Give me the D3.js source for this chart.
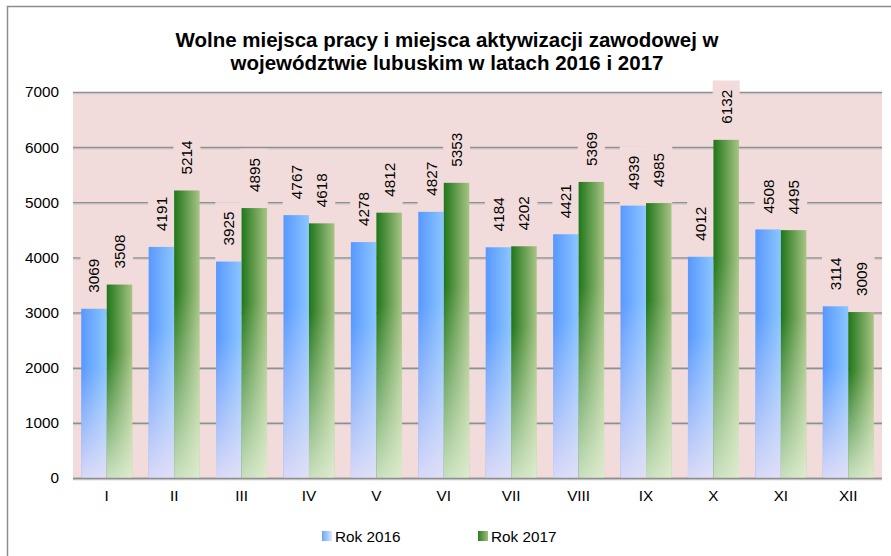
<!DOCTYPE html>
<html>
<head>
<meta charset="utf-8">
<script src="https://cdn.jsdelivr.net/npm/d3@7"></script>
<style>
  body { margin: 0; background: #fff; }
  svg { display: block; font-family: "Liberation Sans", Arial, sans-serif; }
</style>
</head>
<body>
<svg id="chart" width="891" height="556"></svg>
<script>
const months = ['I', 'II', 'III', 'IV', 'V', 'VI', 'VII', 'VIII', 'IX', 'X', 'XI', 'XII']
const rok2016 = [3069, 4191, 3925, 4767, 4278, 4827, 4184, 4421, 4939, 4012, 4508, 3114]
const rok2017 = [3508, 5214, 4895, 4618, 4812, 5353, 4202, 5369, 4985, 6132, 4495, 3009]
const yTicks = [0, 1000, 2000, 3000, 4000, 5000, 6000, 7000]
const seriesNames = ['Rok 2016', 'Rok 2017']
const titleLines = [
  'Wolne miejsca pracy i miejsca aktywizacji zawodowej w',
  'województwie lubuskim w latach 2016 i 2017',
]

const svg = d3.select('#chart')
const plot = { left: 73, right: 882, top: 92, bottom: 478 }
const plotBg = '#f2dcdb'
const font = '"Liberation Sans", Arial, sans-serif'

// outer frame
svg.append('rect')
  .attr('x', 7.5).attr('y', 6.5).attr('width', 900).attr('height', 560)
  .attr('fill', '#fff').attr('stroke', '#8c8c8c').attr('stroke-width', 1.5)

const defs = svg.append('defs')
function hGrad(id, c0, c1) {
  const g = defs.append('linearGradient').attr('id', id)
    .attr('x1', 0).attr('y1', 0).attr('x2', 1).attr('y2', 0)
  g.append('stop').attr('offset', 0).attr('stop-color', c0)
  g.append('stop').attr('offset', 1).attr('stop-color', c1)
}
function vFade(id, c) {
  const g = defs.append('linearGradient').attr('id', id)
    .attr('x1', 0).attr('y1', 0).attr('x2', 0).attr('y2', 1)
  g.append('stop').attr('offset', 0.35).attr('stop-color', c).attr('stop-opacity', 0)
  g.append('stop').attr('offset', 1).attr('stop-color', c).attr('stop-opacity', 0.85)
}
hGrad('blueH', '#5898ff', '#8cc6ff')
hGrad('greenH', '#1f7619', '#a8c486')
vFade('blueV', '#efe4f6')
vFade('greenV', '#e6f2da')
hGrad('blueL', '#6aa6ff', '#dce6f8')
hGrad('greenL', '#2f7d22', '#9cbd78')

const x = d3.scaleBand().domain(months).range([plot.left, plot.right])
  .paddingInner(0.243).paddingOuter(0.122)
const xs = d3.scaleBand().domain([0, 1]).range([0, x.bandwidth()])
const y = d3.scaleLinear().domain([0, 7000]).range([plot.bottom, plot.top])

svg.append('rect')
  .attr('x', plot.left).attr('y', plot.top)
  .attr('width', plot.right - plot.left).attr('height', plot.bottom - plot.top)
  .attr('fill', plotBg)

// gridlines
svg.append('g').selectAll('line').data(yTicks).join('line')
  .attr('x1', plot.left).attr('x2', plot.right)
  .attr('y1', (d) => y(d) + 0.5).attr('y2', (d) => y(d) + 0.5)
  .attr('stroke', '#8f8f8f').attr('stroke-width', 1.6)
svg.append('g').selectAll('line').data(yTicks).join('line')
  .attr('x1', plot.left).attr('x2', plot.right)
  .attr('y1', (d) => y(d) + 1.8).attr('y2', (d) => y(d) + 1.8)
  .attr('stroke', '#c8c8c8').attr('stroke-width', 1)

// y axis labels
const yAxis = d3.axisLeft(y).tickValues(yTicks).tickFormat(d3.format('d'))
  .tickSize(0).tickPadding(14)
svg.append('g').attr('transform', `translate(${plot.left},0)`).call(yAxis)
  .call((g) => g.select('.domain').remove())
  .selectAll('text').attr('font-size', 15.3).attr('fill', '#000')
  .attr('font-family', font)

// x axis labels
const xAxis = d3.axisBottom(x).tickSize(0).tickPadding(12)
svg.append('g').attr('transform', `translate(0,${plot.bottom})`).call(xAxis)
  .call((g) => g.select('.domain').remove())
  .selectAll('text').attr('font-size', 15.3).attr('fill', '#000')
  .attr('font-family', font)

const rows = months.map((m, i) => ({ m, vals: [rok2016[i], rok2017[i]] }))
const fills = [['blueH', 'blueV'], ['greenH', 'greenV']]

const groups = svg.append('g').selectAll('g').data(rows).join('g')
  .attr('transform', (d) => `translate(${x(d.m)},0)`)

// label boxes first, so bars sit over them
groups.each(function (d) {
  const g = d3.select(this)
  d.vals.forEach((v, k) => {
    const cx = xs(k) + xs.bandwidth() / 2
    const top = y(v)
    const textEnd = top - 16
    const w = String(v).length * 8.6
    g.append('rect')
      .attr('x', cx - 13.5).attr('y', textEnd - w - 9)
      .attr('width', 27).attr('height', top - (textEnd - w - 9))
      .attr('fill', plotBg)
    g.append('text')
      .attr('transform', `translate(${cx + 5.5},${textEnd}) rotate(-90)`)
      .attr('font-size', 15.3).attr('fill', '#000')
      .text(v)
  })
})

groups.each(function (d) {
  const g = d3.select(this)
  d.vals.forEach((v, k) => {
    const bx = xs(k), bw = xs.bandwidth()
    g.append('rect').attr('x', bx).attr('y', y(v)).attr('width', bw)
      .attr('height', y(0) - y(v)).attr('fill', `url(#${fills[k][0]})`)
    g.append('rect').attr('x', bx).attr('y', y(v)).attr('width', bw)
      .attr('height', y(0) - y(v)).attr('fill', `url(#${fills[k][1]})`)
  })
})

// baseline redrawn over bars
svg.append('line')
  .attr('x1', plot.left).attr('x2', plot.right)
  .attr('y1', y(0) + 0.5).attr('y2', y(0) + 0.5)
  .attr('stroke', '#8f8f8f').attr('stroke-width', 1.6)

// title
svg.append('g').selectAll('text').data(titleLines).join('text')
  .attr('x', 447).attr('y', (d, i) => 47 + i * 23)
  .attr('text-anchor', 'middle').attr('font-size', 20.5).attr('font-weight', 'bold')
  .attr('fill', '#000')
  .text((d) => d)

// legend
const legendX = [322, 478]
const legend = svg.append('g').selectAll('g').data(seriesNames).join('g')
  .attr('transform', (d, i) => `translate(${legendX[i]},530)`)
legend.append('rect').attr('x', 0).attr('y', 1).attr('width', 10).attr('height', 10)
  .attr('fill', (d, i) => i === 0 ? 'url(#blueL)' : 'url(#greenL)')
legend.append('text').attr('x', 13).attr('y', 11.5)
  .attr('font-size', 15.3).attr('fill', '#000')
  .text((d) => d)
</script>
</body>
</html>
